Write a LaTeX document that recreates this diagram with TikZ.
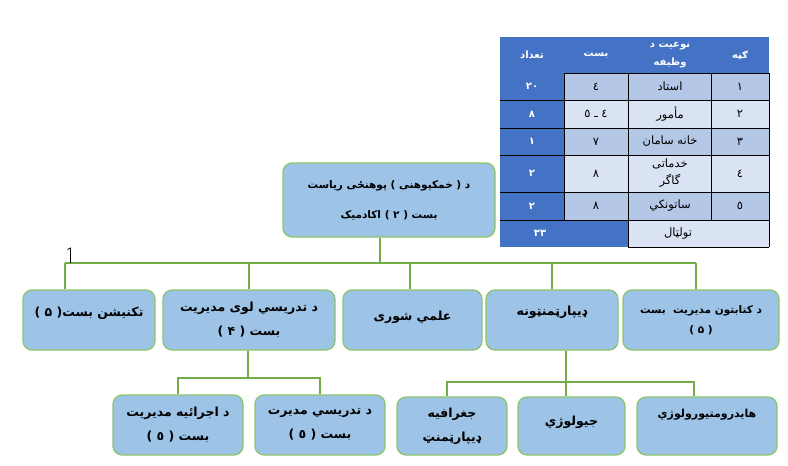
\documentclass[tikz,border=0pt]{standalone}
\usepackage{fontspec}
\setmainfont{Liberation Sans}
\newfontfamily\arfont[Script=Arabic]{DejaVu Sans}
\TeXXeTstate=1
\newcommand{\rtl}[1]{\beginR #1\endR}
\definecolor{boxfill}{HTML}{9DC3E6}
\definecolor{boxedge}{HTML}{8CC46A}
\definecolor{lineg}{HTML}{70AD47}
\definecolor{darkb}{HTML}{4472C4}
\definecolor{lightA}{HTML}{B4C7E7}
\definecolor{lightB}{HTML}{DAE3F3}
\begin{document}
\begin{tikzpicture}[x=1pt,y=-1pt,
  box/.style={draw=boxedge, line width=1.2pt, fill=boxfill, rounded corners=9pt, align=center,
    font=\arfont\bfseries\fontsize{12.5}{24}\selectfont, inner sep=0pt},
  conn/.style={draw=lineg, line width=2pt},
  cell/.style={font=\arfont\fontsize{11.5}{17}\selectfont, align=center, inner sep=0pt},
  hcell/.style={cell, text=white, font=\arfont\bfseries\fontsize{10}{18}\selectfont},
  dcell/.style={cell, text=white, font=\arfont\bfseries\fontsize{10}{17}\selectfont},
  grid/.style={draw=black, line width=0.7pt}]
\useasboundingbox (0,0) rectangle (788,466);
\fill[white] (0,0) rectangle (788,466);

% ---------- boxes ----------
\node[box, minimum width=212pt, minimum height=74pt, font=\arfont\bfseries\fontsize{10.5}{30}\selectfont] (top) at (389,200)
  {\rtl{د ( خمکپوهنی ) پوهنځی ریاست}\\ \rtl{بست ( ۲ ) اکادمیک}};

\node[box, minimum width=132pt, minimum height=60pt, text depth=17pt] (b1) at (89,320) {\rtl{تکنیشن بست( ۵ )}};
\node[box, minimum width=172pt, minimum height=60pt] (b2) at (249,320) {\rtl{د تدریسي لوی مدیریت}\\ \rtl{بست ( ۴ )}};
\node[box, minimum width=139pt, minimum height=60pt, text depth=9pt] (b3) at (412.5,320) {\rtl{علمي شورى}};
\node[box, minimum width=132pt, minimum height=60pt, text depth=19pt] (b4) at (552,320) {ډیپارټمنټونه};
\node[box, minimum width=156pt, minimum height=60pt, font=\arfont\bfseries\fontsize{10.5}{20}\selectfont] (b5) at (701,320) {\rtl{د کتابتون مدیریت \ بست}\\ \rtl{( ۵ )}};

\node[box, minimum width=130pt, minimum height=60pt] (ra) at (178,425) {\rtl{د اجرائیه مدیریت}\\ \rtl{بست ( ٥ )}};
\node[box, minimum width=130pt, minimum height=60pt] (rb) at (320,425) {\rtl{د تدریسي مدیرت}\\ \rtl{بست ( ٥ )}};

\node[box, minimum width=110pt, minimum height=58pt] (rc) at (452,426) {جغرافیه\\ ډیپارټمنټ};
\node[box, minimum width=107pt, minimum height=58pt, text depth=11pt] (rd) at (571.5,426) {جیولوژي};
\node[box, minimum width=140pt, minimum height=58pt, text depth=25pt, font=\arfont\bfseries\fontsize{11}{20}\selectfont] (re) at (707,426) {هایدرومتیورولوژي};

% ---------- connectors ----------
\coordinate (jt) at (380,263);
\coordinate (j1) at (65,263);
\coordinate (j3) at (410,263);
\coordinate (j5) at (696,263);
\draw[conn] (jt |- top.south) -- (jt);
\draw[conn] (j1) -- (j5);
\draw[conn] (j1) -- (j1 |- b1.north);
\draw[conn] (b2.north |- j1) -- (b2.north);
\draw[conn] (j3) -- (j3 |- b3.north);
\draw[conn] (b4.north |- j1) -- (b4.north);
\draw[conn] (j5) -- (j5 |- b5.north);

\coordinate (k) at (248,378);
\draw[conn] (k |- b2.south) -- (k);
\draw[conn] (ra.north) -- (ra.north |- k) -- (rb.north |- k) -- (rb.north);

\coordinate (m) at (566,382);
\coordinate (mc) at (447,382);
\coordinate (me) at (694,382);
\draw[conn] (m |- b4.south) -- (m) -- (m |- rd.north);
\draw[conn] (mc |- rc.north) -- (mc) -- (me) -- (me |- re.north);

% stray mark
\coordinate (s1) at (67.5,249.5);
\coordinate (s2) at (70.5,248);
\coordinate (s3) at (70.5,263);
\draw[black, line width=0.8pt] (s1) -- (s2) -- (s3);

% ---------- table ----------
\fill[darkb] (500,37) rectangle (769,73);
\fill[darkb] (500,73) rectangle (564,220);
\fill[darkb] (500,220) rectangle (628,247);
\fill[lightA] (564,73) rectangle (769,100);
\fill[lightB] (564,100) rectangle (769,128);
\fill[lightA] (564,128) rectangle (769,155);
\fill[lightB] (564,155) rectangle (769,192);
\fill[lightA] (564,192) rectangle (769,220);
\fill[lightB] (628,220) rectangle (769,247);

\foreach \yy in {100,128,155,192,220} \draw[grid] (500,\yy) -- (769,\yy);
\draw[grid] (564,73) -- (769,73);
\draw[grid] (628,247) -- (769,247);
\draw[grid] (564,73) -- (564,220);
\draw[grid] (628,73) -- (628,247);
\draw[grid] (711,73) -- (711,220);
\draw[grid] (769,73) -- (769,247);

\node[hcell] (h1) at (532,55) {تعداد};
\node[hcell] (h2) at (596,55) {بست};
\node[hcell] (h3) at (670,55) {\rtl{نوعیت د}\\ وظیفه};
\node[hcell] (h4) at (740,55) {ګڼه};

\node[dcell] (c11) at (532,86.5) {۲۰};
\node[cell] (c12) at (596,86.5) {٤};
\node[cell] (c13) at (670,86.5) {استاد};
\node[cell] (c14) at (740,86.5) {۱};

\node[dcell] (c21) at (532,114) {۸};
\node[cell] (c22) at (596,114) {\rtl{٤ ـ ٥}};
\node[cell] (c23) at (670,114) {مأمور};
\node[cell] (c24) at (740,114) {۲};

\node[dcell] (c31) at (532,141.5) {۱};
\node[cell] (c32) at (596,141.5) {۷};
\node[cell] (c33) at (670,141.5) {\rtl{خانه سامان}};
\node[cell] (c34) at (740,141.5) {۳};

\node[dcell] (c41) at (532,173.5) {۲};
\node[cell] (c42) at (596,173.5) {۸};
\node[cell] (c43) at (670,173.5) {خدماتی\\ گاگر};
\node[cell] (c44) at (740,173.5) {٤};

\node[dcell] (c51) at (532,206) {۲};
\node[cell] (c52) at (596,206) {۸};
\node[cell] (c53) at (670,206) {ساتونکي};
\node[cell] (c54) at (740,206) {٥};

\node[dcell] (t1) at (540,233.5) {۳۳};
\node[cell] (t2) at (678,233.5) {تولټال};
\end{tikzpicture}
\end{document}
